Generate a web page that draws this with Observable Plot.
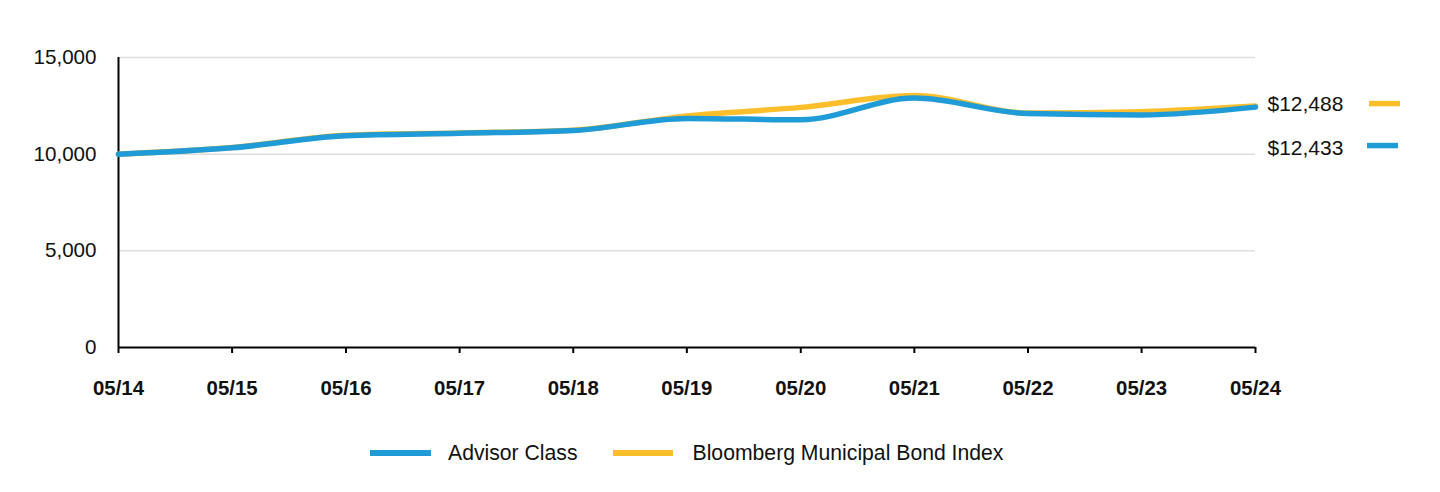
<!DOCTYPE html>
<html><head><meta charset="utf-8">
<script src="https://cdn.jsdelivr.net/npm/d3@7"></script>
<script src="https://cdn.jsdelivr.net/npm/@observablehq/plot@0.6"></script>
<style>
html,body{margin:0;padding:0;background:#fff;}
body{font-family:Arial,"Liberation Sans",sans-serif;width:1440px;height:492px;overflow:hidden;}
#legend{display:flex;align-items:center;padding-top:22px;padding-left:370px;height:22px;font-size:21.2px;color:#111;}
.item{display:flex;align-items:center;}
.sw{display:inline-block;height:6px;}
</style></head><body>
<div id="chart"></div>
<div id="legend"></div>
<script>
// ---- data ----
const periods = ["2014-05-31","2015-05-31","2016-05-31","2017-05-31","2018-05-31","2019-05-31","2020-05-31","2021-05-31","2022-05-31","2023-05-31","2024-05-31"];
const advisorClass = [10000, 10330, 10950, 11080, 11220, 11850, 11780, 12900, 12100, 12030, 12433];
const bloombergMuni = [10000, 10340, 10980, 11100, 11240, 11980, 12420, 13030, 12130, 12200, 12488];
const seriesNames = ["Advisor Class", "Bloomberg Municipal Bond Index"];
const seriesColors = ["#1f9bd7", "#fcbf2b"];
const yTicks = [0, 5000, 10000, 15000];
const endLabels = ["$12,433", "$12,488"];

const dates = periods.map(d => new Date(d + "T00:00:00Z"));
const rowsA = dates.map((d, i) => ({date: d, value: advisorClass[i], series: seriesNames[0]}));
const rowsB = dates.map((d, i) => ({date: d, value: bloombergMuni[i], series: seriesNames[1]}));
const last = dates.length - 1;

const plot = Plot.plot({
  width: 1440,
  height: 420,
  marginLeft: 118,
  marginRight: 185,
  marginTop: 57,
  marginBottom: 73,
  style: {fontFamily: "Arial, 'Liberation Sans', sans-serif", fontSize: "20.6px", color: "#111", background: "#fff"},
  x: {type: "utc", domain: [dates[0], dates[last]], ticks: dates, tickFormat: d3.utcFormat("%m/%y"), tickSize: 6, tickPadding: 27, label: null},
  y: {domain: [0, 15000], ticks: yTicks, tickFormat: d3.format(","), tickSize: 0, tickPadding: 22, label: null},
  marks: [
    Plot.ruleY(yTicks.filter(t => t > 0), {stroke: "#dedede", strokeWidth: 1.5}),
    Plot.axisX({ticks: dates, tickFormat: d3.utcFormat("%m/%y"), tickSize: 6, tickPadding: 27, fontWeight: "bold", fontSize: 20.4, stroke: "#000", strokeWidth: 2, label: null}),
    Plot.axisY({ticks: yTicks, tickFormat: d3.format(","), tickSize: 0, tickPadding: 22, fontSize: 20.6, label: null}),
    Plot.ruleX([dates[0]], {stroke: "#000", strokeWidth: 2}),
    Plot.ruleY([0], {stroke: "#000", strokeWidth: 2}),
    Plot.line(rowsB, {x: "date", y: "value", stroke: seriesColors[1], strokeWidth: 5.5, curve: "monotone-x"}),
    Plot.line(rowsA, {x: "date", y: "value", stroke: seriesColors[0], strokeWidth: 5.5, curve: "monotone-x"}),
    Plot.text([rowsB[last]], {x: "date", y: "value", text: () => endLabels[1], textAnchor: "start", dx: 12, dy: -2, fontSize: 21, fill: "#111"}),
    Plot.text([rowsB[last]], {x: "date", y: "value", text: () => endLabels[0], textAnchor: "start", dx: 12, dy: 42, fontSize: 21, fill: "#111"})
  ]
});
document.getElementById("chart").appendChild(plot);

// end-label swatches (legend decorations next to the end labels)
const xs = plot.scale("x"), ys = plot.scale("y");
const svg = d3.select(plot);
const xEnd = xs.apply(dates[last]);
const yB = ys.apply(bloombergMuni[last]) - 2;
[[seriesColors[1], yB], [seriesColors[0], yB + 42]].forEach(([c, yy], i) => {
  svg.append("line").attr("x1", xEnd + 114 - i * 2).attr("x2", xEnd + 145 - i * 2)
    .attr("y1", yy).attr("y2", yy).attr("stroke", c).attr("stroke-width", 5.5);
});

// bottom legend
const lg = d3.select("#legend");
seriesNames.forEach((n, i) => {
  const it = lg.append("div").attr("class", "item").style("margin-right", i === 0 ? "35px" : "0");
  it.append("span").attr("class", "sw").style("background", seriesColors[i]).style("width", i === 0 ? "61px" : "60px").style("margin-right", i === 0 ? "17px" : "20px");
  it.append("span").text(n);
});
</script>
</body></html>
